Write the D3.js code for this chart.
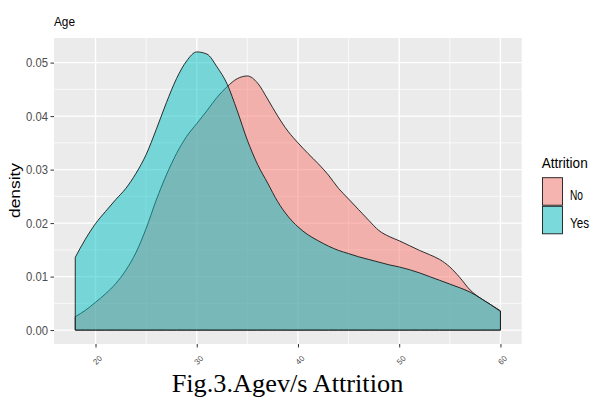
<!DOCTYPE html>
<html>
<head>
<meta charset="utf-8">
<script src="https://cdn.jsdelivr.net/npm/d3@7"></script>
<style>
  html, body { margin: 0; padding: 0; background: #ffffff; }
  svg { display: block; }
</style>
</head>
<body>
<svg id="chart" width="593" height="398"></svg>
<script>
// ---- data ----
const ages = [18,19,20,21,22,23,24,25,26,27,28,29,30,31,32,33,34,35,36,37,38,39,40,
              41,42,43,44,45,46,47,48,49,50,51,52,53,54,55,56,57,58,59,60];
const densityNo = [0.0025,0.0037,0.0052,0.0068,0.0087,0.0112,0.0145,0.0190,0.0243,0.0290,
                   0.0330,0.0362,0.0386,0.0410,0.0435,0.0455,0.0470,0.0475,0.0462,0.0432,
                   0.0400,0.0372,0.0350,0.0330,0.0311,0.0290,0.0265,0.0245,0.0225,0.0205,
                   0.0186,0.0175,0.0167,0.0158,0.0149,0.0141,0.0132,0.0118,0.0098,0.0075,
                   0.0060,0.0048,0.0036];
const densityYes = [0.0136,0.0170,0.0199,0.0222,0.0244,0.0265,0.0293,0.0328,0.0375,0.0425,
                    0.0470,0.0503,0.0520,0.0516,0.0492,0.0460,0.0410,0.0355,0.0310,0.0275,
                    0.0240,0.0213,0.0193,0.0178,0.0167,0.0157,0.0149,0.0143,0.0137,0.0132,
                    0.0127,0.0122,0.0118,0.0113,0.0107,0.0100,0.0093,0.0086,0.0079,0.0071,
                    0.0060,0.0048,0.0035];
const groups = ["No", "Yes"];
const groupColors = ["#F8766D", "#00BFC4"];
const xTicks = [20, 30, 40, 50, 60];
const xMinor = [25, 35, 45, 55];
const yTicks = [0.00, 0.01, 0.02, 0.03, 0.04, 0.05];
const yMinor = [0.005, 0.015, 0.025, 0.035, 0.045];
const titleText = "Age";
const yTitle = "density";
const legendTitle = "Attrition";
const caption = "Fig.3.Agev/s Attrition";

// ---- layout ----
const svg = d3.select("#chart");
const panel = {left: 54, right: 521.7, top: 38, bottom: 344};

const xLo = d3.min(ages), xHi = d3.max(ages);
const xPad = (xHi - xLo) * 0.05;
const x = d3.scaleLinear().domain([xLo - xPad, xHi + xPad]).range([panel.left, panel.right]);
const yMax = d3.max([d3.max(densityNo), d3.max(densityYes)]);
const yPad = yMax * 0.05;
const y = d3.scaleLinear().domain([-yPad, yMax + yPad]).range([panel.bottom, panel.top]);

// panel background
svg.append("rect")
  .attr("x", panel.left).attr("y", panel.top)
  .attr("width", panel.right - panel.left).attr("height", panel.bottom - panel.top)
  .attr("fill", "#EBEBEB");

const grid = svg.append("g");
yMinor.forEach(v => grid.append("line")
  .attr("x1", panel.left).attr("x2", panel.right).attr("y1", y(v)).attr("y2", y(v))
  .attr("stroke", "#fff").attr("stroke-width", 0.7));
xMinor.forEach(v => grid.append("line")
  .attr("y1", panel.top).attr("y2", panel.bottom).attr("x1", x(v)).attr("x2", x(v))
  .attr("stroke", "#fff").attr("stroke-width", 0.7));
yTicks.forEach(v => grid.append("line")
  .attr("x1", panel.left).attr("x2", panel.right).attr("y1", y(v)).attr("y2", y(v))
  .attr("stroke", "#fff").attr("stroke-width", 1.4));
xTicks.forEach(v => grid.append("line")
  .attr("y1", panel.top).attr("y2", panel.bottom).attr("x1", x(v)).attr("x2", x(v))
  .attr("stroke", "#fff").attr("stroke-width", 1.4));

// density areas
const series = [densityNo, densityYes];
series.forEach((vals, i) => {
  const pts = ages.map((a, j) => [a, vals[j]]);
  const area = d3.area()
    .x(d => x(d[0])).y0(y(0)).y1(d => y(d[1]))
    .curve(d3.curveMonotoneX);
  svg.append("path")
    .attr("d", area(pts))
    .attr("fill", groupColors[i]).attr("fill-opacity", 0.5)
    .attr("stroke", "#1a1a1a").attr("stroke-width", 0.9)
    .attr("stroke-linejoin", "round");
});

// y axis
const yAxis = d3.axisLeft(y).tickValues(yTicks).tickFormat(d3.format(".2f")).tickSize(3.5).tickPadding(2.5);
const gy = svg.append("g").attr("transform", `translate(${panel.left},0)`).call(yAxis);
gy.select(".domain").remove();
gy.selectAll(".tick line").attr("stroke", "#333333").attr("stroke-width", 1);
gy.selectAll(".tick text")
  .attr("fill", "#4D4D4D").attr("font-family", "Liberation Sans, Arial, sans-serif")
  .attr("font-size", 12.5).attr("textLength", 22).attr("lengthAdjust", "spacingAndGlyphs");

// x axis
const xAxis = d3.axisBottom(x).tickValues(xTicks).tickSize(3.5).tickFormat("");
const gx = svg.append("g").attr("transform", `translate(0,${panel.bottom})`).call(xAxis);
gx.select(".domain").remove();
gx.selectAll(".tick line").attr("stroke", "#333333").attr("stroke-width", 1);
xTicks.forEach(v => {
  svg.append("text")
    .attr("transform", `translate(${x(v) + 2},${360}) rotate(-45)`)
    .attr("text-anchor", "middle").attr("dy", "0.35em")
    .attr("font-family", "Liberation Sans, Arial, sans-serif").attr("font-size", 8)
    .attr("fill", "#4D4D4D")
    .text(v);
});

// titles
svg.append("text").attr("x", 54).attr("y", 26)
  .attr("font-family", "Liberation Sans, Arial, sans-serif").attr("font-size", 13)
  .attr("textLength", 21).attr("lengthAdjust", "spacingAndGlyphs")
  .attr("fill", "#000").text(titleText);

svg.append("text")
  .attr("transform", `translate(${20},${190.5}) rotate(-90)`)
  .attr("text-anchor", "middle")
  .attr("font-family", "Liberation Sans, Arial, sans-serif").attr("font-size", 14)
  .attr("textLength", 55).attr("lengthAdjust", "spacingAndGlyphs")
  .attr("fill", "#000").text(yTitle);

// legend
svg.append("text").attr("x", 541.7).attr("y", 167.5)
  .attr("font-family", "Liberation Sans, Arial, sans-serif").attr("font-size", 15)
  .attr("textLength", 46).attr("lengthAdjust", "spacingAndGlyphs")
  .attr("fill", "#000").text(legendTitle);
const keyTops = [177.7, 206.3];
const labelLens = [13, 19];
groups.forEach((g, i) => {
  svg.append("rect").attr("x", 542.5).attr("y", keyTops[i]).attr("width", 20).attr("height", 27.5)
    .attr("fill", "#F2F2F2");
  svg.append("rect").attr("x", 542.5).attr("y", keyTops[i]).attr("width", 20).attr("height", 27.5)
    .attr("fill", groupColors[i]).attr("fill-opacity", 0.5)
    .attr("stroke", "#1a1a1a").attr("stroke-width", 0.9);
  svg.append("text").attr("x", 570).attr("y", keyTops[i] + 22)
    .attr("font-family", "Liberation Sans, Arial, sans-serif").attr("font-size", 14)
    .attr("textLength", labelLens[i]).attr("lengthAdjust", "spacingAndGlyphs")
    .attr("fill", "#000").text(g);
});

// caption
svg.append("text").attr("x", 171.7).attr("y", 391.5)
  .attr("font-family", "Liberation Serif, 'Times New Roman', serif").attr("font-size", 26)
  .attr("textLength", 231.6).attr("lengthAdjust", "spacingAndGlyphs")
  .attr("fill", "#000").text(caption);
</script>
</body>
</html>
